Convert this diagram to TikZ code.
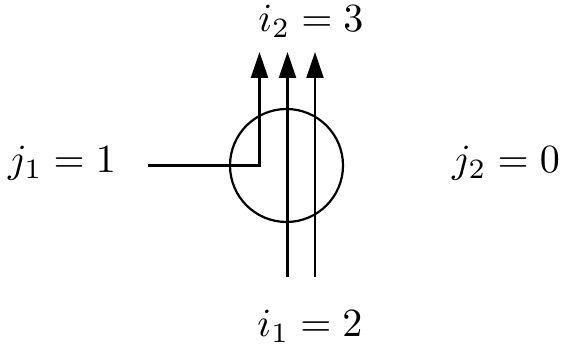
\documentclass[tikz,border=0pt]{standalone}
\usetikzlibrary{arrows.meta}
\begin{document}
\begin{tikzpicture}[x=1pt,y=-1pt,
  lbl/.style={inner sep=0pt,anchor=base},
  wire/.style={line width=2.2pt},
  arr/.style={wire,-{Triangle[length=26pt,width=17pt]}}]
\useasboundingbox (0,0) rectangle (568,347);
\node[draw,circle,line width=2.2pt,minimum size=113pt,inner sep=0pt] (c) at (286.5,165.5) {};
\coordinate (a0) at (148,165.5);
\coordinate (a1) at (259.5,165.5);
\coordinate (a2) at (259.5,52);
\coordinate (b0) at (287.5,277);
\coordinate (b1) at (287.5,52);
\coordinate (d0) at (315,277);
\coordinate (d1) at (315,52);
\draw[arr] (a0) -- (a1) -- (a2);
\draw[arr] (b0) -- (b1);
\draw[arr] (d0) -- (d1);
\node[lbl] (j1) at (62,173) {\scalebox{4}{$j_1 = 1$}};
\node[lbl] (j2) at (506,173) {\scalebox{4}{$j_2 = 0$}};
\node[lbl] (i2) at (311,32) {\scalebox{4}{$i_2 = 3$}};
\node[lbl] (i1) at (310,337) {\scalebox{4}{$i_1 = 2$}};
\end{tikzpicture}
\end{document}
